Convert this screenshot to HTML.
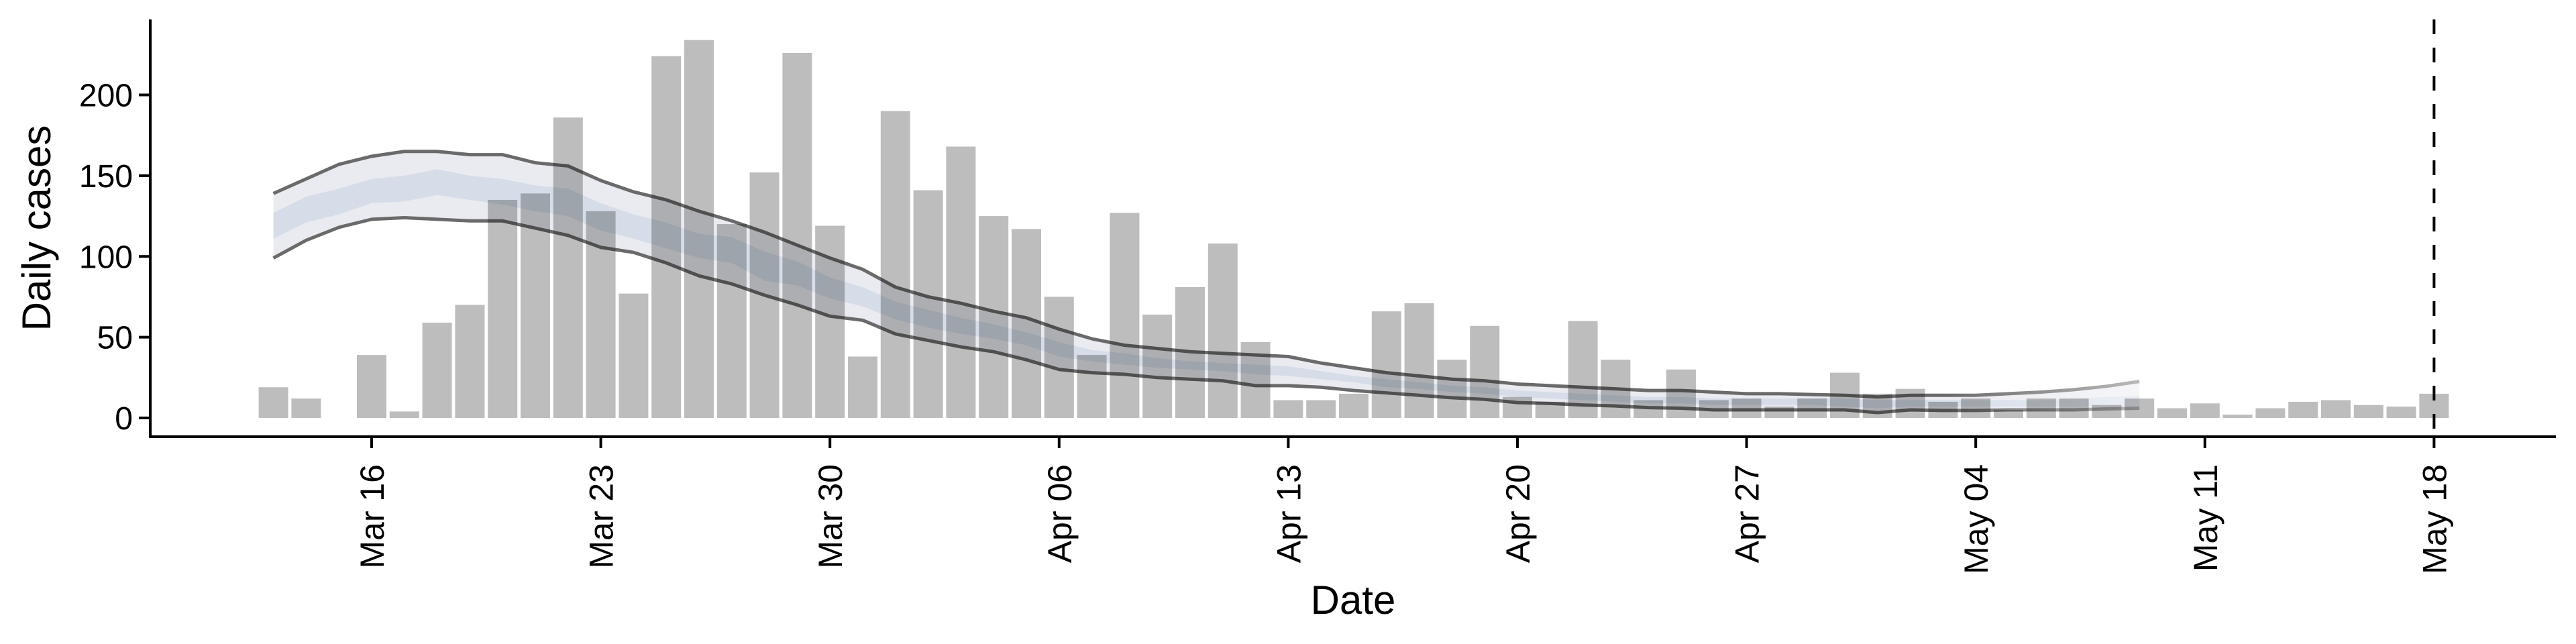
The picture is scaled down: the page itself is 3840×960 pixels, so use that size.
<!DOCTYPE html>
<html><head><meta charset="utf-8"><style>
html,body{margin:0;padding:0;background:#fff;}
svg{display:block;font-family:"Liberation Sans",sans-serif;}
</style></head><body>
<svg id="chart" width="3840" height="960" viewBox="0 0 3840 960" xmlns="http://www.w3.org/2000/svg">
<defs>
<linearGradient id="fadeGrad" gradientUnits="userSpaceOnUse" x1="2900" y1="0" x2="3200" y2="0">
<stop offset="0" stop-color="#fff" stop-opacity="1"/>
<stop offset="1" stop-color="#fff" stop-opacity="0.45"/>
</linearGradient>
<mask id="fadeMask" maskUnits="userSpaceOnUse" x="0" y="0" width="3840" height="960">
<rect x="0" y="0" width="3840" height="960" fill="url(#fadeGrad)"/>
</mask>
</defs>
<g id="bars"></g>
<g id="ribbons" mask="url(#fadeMask)" style="mix-blend-mode:multiply"></g>
<g id="axes"></g>
</svg>
<script>
// ---- data ----
const startDate = "2020-03-13";
const cases = [19,12,0,39,4,59,70,135,139,186,128,77,224,234,120,152,226,119,38,
190,141,168,125,117,75,39,127,64,81,108,47,11,11,15,66,71,36,57,13,10,60,36,11,30,11,12,7,12,28,
15,18,10,12,5,12,12,8,12,6,9,2,6,10,11,8,7,15];
const outerUpper = [139,148,157,162,165,165,163,163,158,156,147,140,135,128,122,115,107,99,92,
81,75,71,66,62,55,49,45,43,41,40,39,38,34,31,28,26,24,23,21,20,19,18,17,17,16,15,15,14.5,14,
13,14,14,14,15,16,17.5,19.6,22.6];
const outerLower = [99,110,118,123,124,123,122,122,117.5,113,105.6,102.5,96,88,83,76,70,63,60.5,
52,48,44,41,36,30,28,27,25,24,23,20,20,19,17,15.5,14,12.5,11.5,9.5,9,8,7.4,6.4,6,5,5,5,5,5,
3.3,5,4.6,4.6,5,5,5,5.6,6];
const innerUpper = [127,137,142,148,150,154,150,148,144,142,133,126,121,114,112,103,97,87,81,
72,67,62,58,53,47,42,40,37,35,34,33,32,29,26,24,22,20,19,17,16,15,14,13,13,12,12,12,12,12,
11,11,11,11,11,11,12,13,14];
const innerLower = [111,121,126,133,134,138,135,132,128,125,116,111,105,99,96,85,82,74,69,
61,56,52,49,45,38,35,33,31,30,29,27,26,24,22,19,18,16,15,13,12,11,10,9,9,8,8,8,8,7,
6,7,7,7,7,7,7,7,7];
const xTickLabels = ["Mar 16","Mar 23","Mar 30","Apr 06","Apr 13","Apr 20","Apr 27","May 04","May 11","May 18"];
const xTickDays = [3,10,17,24,31,38,45,52,59,66];
const yTicks = [0,50,100,150,200];
const cutoffDay = 66;

// ---- scales ----
const X0 = 554, DAY = 48.8;
function xs(d){ return X0 + (d-3)*DAY; }
const Y0 = 623, PER = 481.5/200;
function ys(v){ return Y0 - v*PER; }
const NS = "http://www.w3.org/2000/svg";
function mk(tag, attrs, parent){ const e=document.createElementNS(NS,tag); for(const k in attrs) e.setAttribute(k,attrs[k]); parent.appendChild(e); return e; }

// bars
const gb = document.getElementById('bars');
const bw = 44;
cases.forEach((v,i)=>{
  if(v<=0) return;
  const r = mk('rect',{x:xs(i)-bw/2,y:ys(v),width:bw,height:Y0-ys(v),fill:'#bdbdbd'},gb);
  
  
});

// ribbons
const gr = document.getElementById('ribbons');
function band(up, lo, fill, name){
  let pts = up.map((v,i)=>xs(i)+','+ys(v));
  for(let i=lo.length-1;i>=0;i--) pts.push(xs(i)+','+ys(lo[i]));
  const p = mk('polygon',{points:pts.join(' '),fill:fill},gr);
  
  
}
band(outerUpper, outerLower, '#eaebf1', 'outer-interval-band');
band(innerUpper, innerLower, '#d6dde8', 'inner-interval-band');
function line(arr, name){
  const d = arr.map((v,i)=>(i?'L':'M')+xs(i)+' '+ys(v)).join(' ');
  const p = mk('path',{d:d,fill:'none',stroke:'#6a6a6a','stroke-width':5,'stroke-linejoin':'round'},gr);
  
  
}
line(outerUpper,'upper-bound-line');
line(outerLower,'lower-bound-line');

// axes
const ga = document.getElementById('axes');
const yl = mk('line',{x1:224,y1:29,x2:224,y2:652,stroke:'#000','stroke-width':4},ga);
 
const xl = mk('line',{x1:222,y1:651,x2:3810,y2:651,stroke:'#000','stroke-width':4},ga);
 
yTicks.forEach(v=>{
  const t = mk('line',{x1:207,y1:ys(v),x2:224,y2:ys(v),stroke:'#000','stroke-width':4},ga);
   
  const tx = mk('text',{x:198,y:ys(v)+17,'text-anchor':'end','font-size':48,fill:'#000'},ga);
  tx.textContent = v;
   
});
xTickDays.forEach((d,i)=>{
  const x = xs(d);
  const t = mk('line',{x1:x,y1:651,x2:x,y2:668,stroke:'#000','stroke-width':4},ga);
   
  const tx = mk('text',{x:0,y:0,'text-anchor':'end','font-size':50,fill:'#000',transform:`translate(${x+18},692) rotate(-90)`},ga);
  tx.textContent = xTickLabels[i];
   
});
const cl = mk('line',{x1:xs(cutoffDay),y1:29,x2:xs(cutoffDay),y2:651,stroke:'#000','stroke-width':4,'stroke-dasharray':'22,20'},ga);
 
const yt = mk('text',{x:0,y:0,'text-anchor':'middle','font-size':60,fill:'#000',transform:'translate(75,340) rotate(-90)'},ga);
yt.textContent = 'Daily cases';
 
const xt = mk('text',{x:2017,y:915,'text-anchor':'middle','font-size':60,fill:'#000'},ga);
xt.textContent = 'Date';
 
</script>
</body></html>
